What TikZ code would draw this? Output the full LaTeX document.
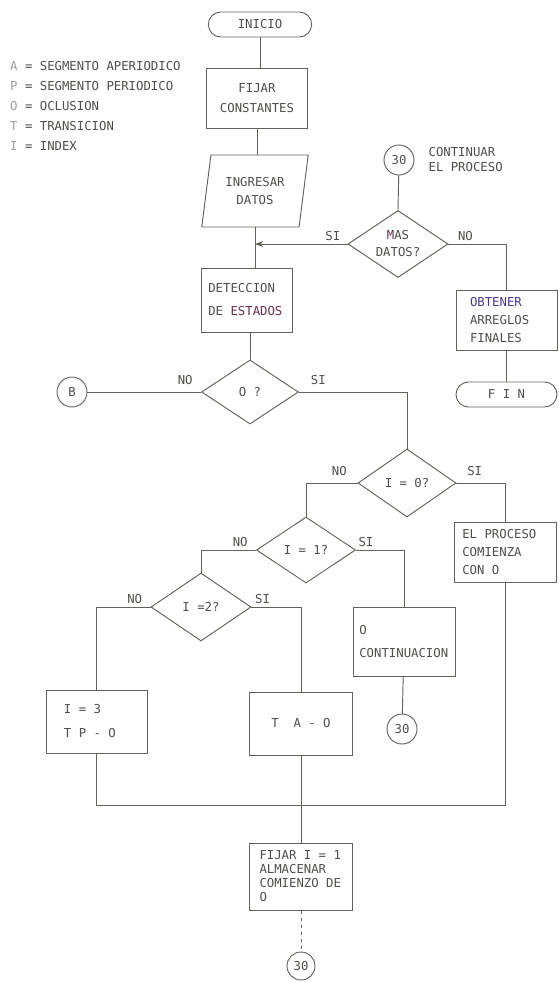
\documentclass[tikz,border=0pt]{standalone}
\usepackage{fontspec}
\setmonofont{DejaVu Sans Mono}
\usetikzlibrary{positioning, arrows.meta, shapes.geometric, shapes.misc}

\definecolor{ink}{RGB}{98,98,90}
\definecolor{txt}{RGB}{78,78,74}
\definecolor{obt}{RGB}{62,58,150}
\definecolor{est}{RGB}{105,48,78}

\begin{document}
\begin{tikzpicture}[x=0.03cm, y=-0.03cm, >={Stealth[length=7pt,width=5pt]},
    every node/.style={text=txt, font=\ttfamily\fontsize{10.5}{17}\selectfont},
    wire/.style={draw=ink, line width=0.8pt},
    term/.style={wire, rounded rectangle, minimum width=3.1cm, minimum height=0.75cm, inner sep=0pt},
    box/.style={wire, rectangle, inner xsep=0.27cm, text width=2.5cm, align=flush left, minimum height=1.8cm},
    cbox/.style={box, align=flush center},
    decision/.style={wire, diamond, minimum width=3cm, minimum height=2.04cm, inner sep=0pt},
    conn/.style={wire, circle, minimum size=0.9cm, inner sep=0pt},
    lbl/.style={inner sep=1pt}]
    \useasboundingbox (0,0) rectangle (558,982);

    % Legend
    \foreach \k/\t [count=\i] in {A/SEGMENTO APERIODICO, P/SEGMENTO PERIODICO, O/OCLUSION, T/TRANSICION, I/INDEX}
        \node[anchor=base west, inner sep=0pt] (leg\i) at (10,50.5+20*\i) {\textcolor{txt!55}{\k} = \t};

    % Main column
    \node[term] (inicio) at (260,24.5) {INICIO};
    \node[cbox] (fijar) at (257,98) {FIJAR\\CONSTANTES};
    \node[wire, trapezium, trapezium left angle=79, trapezium right angle=101, trapezium stretches=true,
          minimum width=3.21cm, minimum height=2.16cm, align=center,
          font=\ttfamily\fontsize{10.5}{16}\selectfont] (ingresar) at (255,191) {INGRESAR\\DATOS};
    \node[box, inner xsep=0.22cm, text width=2.29cm, minimum height=1.92cm, font=\ttfamily\fontsize{10.5}{19.6}\selectfont]
        (deteccion) at (246.5,300) {DETECCION\\DE \textcolor{est}{ESTADOS}};

    % Loop back / end
    \node[conn] (c30a) at (399,160) {30};
    \node[right=0.3cm of c30a, align=left, font=\ttfamily\fontsize{10.5}{12.8}\selectfont] (contlbl) {CONTINUAR\\EL PROCESO};
    \node[decision, minimum height=2.01cm,
          label={[align=center, font=\ttfamily\fontsize{10.5}{14.5}\selectfont]center:{\textcolor{est}{M}AS\\DATOS?}}] (masdatos) at (398,244) {};
    \coordinate (merge) at (ingresar.south |- masdatos.west);
    \node[box, inner xsep=0.42cm, text width=2.19cm, font=\ttfamily\fontsize{10.5}{15}\selectfont]
        (obtener) at (506.5,320) {\textcolor{obt}{OBTENER}\\ARREGLOS\\FINALES};
    \node[term, minimum width=3.03cm] (fin) at (506.5,394.5) {F I N};

    % Decisions
    \node[conn] (b) at (72,392) {B};
    \node[decision, minimum width=2.91cm, minimum height=1.92cm, label=center:{O ?}] (ocl) at (250,392) {};
    \node[decision, minimum width=2.94cm, label=center:{I = 0?}] (izero) at (407,483) {};
    \node[decision, minimum width=2.97cm, minimum height=1.98cm, label=center:{I = 1?}] (ione) at (306,550) {};
    \node[decision, label=center:{I =2?}] (itwo) at (201,607) {};

    % Outcomes
    \node[box, inner xsep=0.25cm, text width=2.56cm, font=\ttfamily\fontsize{10.5}{15}\selectfont]
        (elproceso) at (505,552) {EL PROCESO\\COMIENZA\\CON O};
    \node[box, inner xsep=0.19cm, text width=2.68cm, minimum height=2.07cm, font=\ttfamily\fontsize{10.5}{19.6}\selectfont]
        (cont) at (404,641.5) {O\\CONTINUACION};
    \node[conn] (c30b) at (402,729) {30};
    \node[box, inner xsep=0.54cm, text width=1.95cm, minimum height=1.89cm, font=\ttfamily\fontsize{10.5}{20.5}\selectfont]
        (ithree) at (96.5,721.5) {I = 3\\T P - O};
    \node[cbox, text width=2.55cm, minimum height=1.89cm] (ta) at (301,723.5) {T~~A - O};
    \coordinate (bus) at (301,805);
    \node[box, inner xsep=0.3cm, text width=2.49cm, minimum height=2.01cm, font=\ttfamily\fontsize{10.5}{12}\selectfont]
        (fijar1) at (301,876.5) {FIJAR I = 1\\ALMACENAR\\COMIENZO DE\\O};
    \node[conn, minimum size=0.84cm] (c30c) at (301,966) {30};

    % Branch labels
    \node[lbl, above left=2pt and 5pt of masdatos.west] (si0) {SI};
    \node[lbl, above right=2pt and 7pt of masdatos.east] (no0) {NO};
    \node[lbl, above left=5pt and 6pt of ocl.west] (no1) {NO};
    \node[lbl, above right=5pt and 9pt of ocl.east] (si1) {SI};
    \node[lbl, above left=5pt and 8pt of izero.west] (no2) {NO};
    \node[lbl, above right=5pt and 8pt of izero.east] (si2) {SI};
    \node[lbl, above left=2pt and 6pt of ione.west] (no3) {NO};
    \node[lbl, above right=2pt and 1pt of ione.east] (si3) {SI};
    \node[lbl, above left=2pt and 6pt of itwo.west] (no4) {NO};
    \node[lbl, above right=2pt and 2pt of itwo.east] (si4) {SI};

    % Connectors
    \draw[wire] (inicio.south) -- (inicio.south |- fijar.north);
    \draw[wire] (fijar.south) -- (fijar.south |- ingresar.north);
    \draw[wire] (ingresar.south) -- (ingresar.south |- deteccion.north);
    \draw[wire] (ocl.north |- deteccion.south) -- (ocl.north);
    \draw[wire] (c30a) -- (masdatos.north);
    \draw[wire, ->] (masdatos.west) -- (merge);
    \draw[wire] (masdatos.east) -| (obtener.north);
    \draw[wire] (obtener) -- (fin);
    \draw[wire] (b) -- (ocl.west);
    \draw[wire] (ocl.east) -| (izero.north);
    \draw[wire] (izero.west) -| (ione.north);
    \draw[wire] (izero.east) -| (elproceso.north);
    \draw[wire] (ione.west) -| (itwo.north);
    \draw[wire] (ione.east) -| (cont.north);
    \draw[wire] (itwo.west) -| (ithree.north);
    \draw[wire] (itwo.east) -| (ta.north);
    \draw[wire] (cont) -- (c30b);
    \draw[wire] (ithree.south) |- (bus) -| (elproceso.south);
    \draw[wire] (ta.south) -- (fijar1.north);
    \draw[wire, dashed] (fijar1) -- (c30c);
\end{tikzpicture}
\end{document}
